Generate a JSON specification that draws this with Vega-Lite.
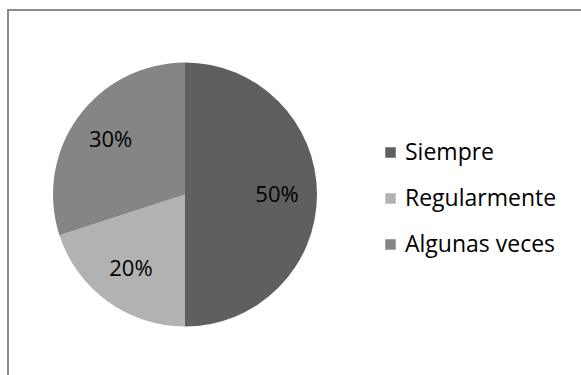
{
  "$schema": "https://vega.github.io/schema/vega-lite/v6.json",
  "width": 580,
  "height": 370,
  "autosize": "none",
  "padding": {"left": 8, "top": 10, "right": 0, "bottom": 0},
  "background": "white",
  "config": {
    "view": {"stroke": "#8c8c8c", "strokeWidth": 2},
    "font": "Open Sans"
  },
  "data": {
    "values": [
      {"categoria": "Siempre", "valor": 50, "orden": 1, "etiqueta": "50%"},
      {"categoria": "Regularmente", "valor": 20, "orden": 2, "etiqueta": "20%"},
      {"categoria": "Algunas veces", "valor": 30, "orden": 3, "etiqueta": "30%"}
    ]
  },
  "encoding": {
    "theta": {"field": "valor", "type": "quantitative", "stack": true},
    "order": {"field": "orden", "type": "quantitative"},
    "x": {"value": 177},
    "y": {"value": 184.5}
  },
  "layer": [
    {
      "mark": {"type": "arc", "outerRadius": 132},
      "encoding": {
        "color": {
          "field": "categoria",
          "type": "nominal",
          "scale": {
            "domain": ["Siempre", "Regularmente", "Algunas veces"],
            "range": ["#5f5f5f", "#b2b2b2", "#858585"]
          },
          "legend": {
            "title": null,
            "orient": "none",
            "legendX": 371,
            "legendY": 131,
            "symbolType": "square",
            "symbolSize": 110,
            "symbolStrokeWidth": 0,
            "labelFontSize": 23,
            "labelFont": "Open Sans",
            "labelColor": "#000000",
            "labelOffset": 3,
            "rowPadding": 22
          }
        }
      }
    },
    {
      "mark": {"type": "text", "radius": 92, "fontSize": 22, "font": "Open Sans", "color": "#000000"},
      "encoding": {
        "text": {"field": "etiqueta", "type": "nominal"}
      }
    }
  ]
}
